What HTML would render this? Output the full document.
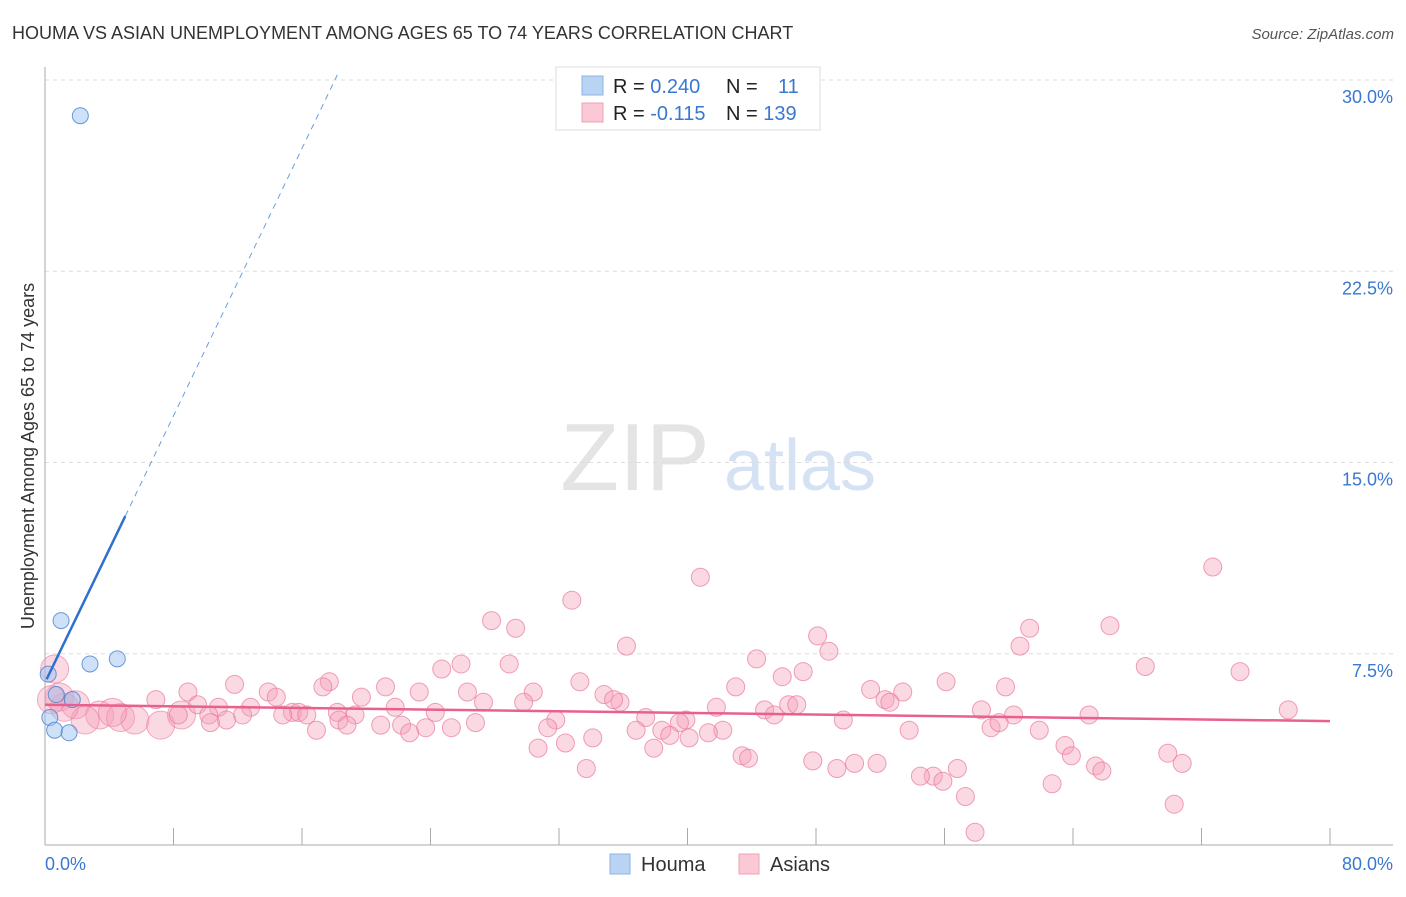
<!DOCTYPE html>
<html><head><meta charset="utf-8"><style>
body{margin:0;background:#fff;font-family:"Liberation Sans",sans-serif}
svg text{font-family:"Liberation Sans",sans-serif}
</style></head><body>
<svg id="c" width="1406" height="892">
<text x="12" y="39" font-size="18" fill="#333">HOUMA VS ASIAN UNEMPLOYMENT AMONG AGES 65 TO 74 YEARS CORRELATION CHART</text>
<text x="1394" y="39" font-size="15" fill="#555" text-anchor="end" font-style="italic">Source: ZipAtlas.com</text>
<text x="635" y="490" font-size="96" fill="#e4e4e4" font-family="Liberation Serif" text-anchor="middle">ZIP</text>
<text x="800" y="490" font-size="72" fill="#d4e2f4" text-anchor="middle">atlas</text>
<text transform="translate(34,456) rotate(-90)" font-size="18" fill="#333" text-anchor="middle">Unemployment Among Ages 65 to 74 years</text>
<g id="grid"></g><g id="pts"></g><g id="lines"></g>
<g>
<rect x="556" y="67" width="264" height="63" fill="#fff" stroke="#ddd"/>
<rect x="582" y="76" width="21" height="19" fill="#b9d3f3" stroke="#8db3e6"/>
<rect x="582" y="103" width="21" height="19" fill="#fbc8d6" stroke="#f0a0b8"/>
<text x="613" y="93" font-size="20" fill="#222">R = <tspan fill="#3a78d0">0.240</tspan></text>
<text x="726" y="93" font-size="20" fill="#222">N = <tspan x="778" fill="#3a78d0">11</tspan></text>
<text x="613" y="120" font-size="20" fill="#222">R = <tspan fill="#3a78d0">-0.115</tspan></text>
<text x="726" y="120" font-size="20" fill="#222">N = <tspan fill="#3a78d0">139</tspan></text>
</g>
<g>
<rect x="610" y="854" width="20" height="20" fill="#b9d3f3" stroke="#8db3e6"/>
<text x="641" y="871" font-size="20" fill="#333">Houma</text>
<rect x="739" y="854" width="20" height="20" fill="#fbc8d6" stroke="#f0a0b8"/>
<text x="770" y="871" font-size="20" fill="#333">Asians</text>
</g>
</svg>
<script>
const xTicks=[0,8,16,24,32,40,48,56,64,72,80];
const yTicks=[7.5,15,22.5,30];
const houmaX=[2.2,0.2,1.0,2.8,4.5,0.7,1.7,0.3,0.6,1.5];
const houmaY=[28.6,6.7,8.8,7.1,7.3,5.9,5.7,5.0,4.5,4.4];
const asianX=[40.8,72.7,32.8,27.8,29.3,66.3,61.3,48.1,36.2,60.7,48.8,44.3,28.9,25.9,24.7,68.5,74.4,47.2,45.9,17.7,33.3,56.1,17.3,43.0,11.8,59.8,51.4,53.4,21.2,23.3,26.3,30.4,34.8,13.9,8.9,6.9,19.7,27.3,29.8,35.8,35.4,52.3,52.6,41.8,46.3,46.8,44.8,58.3,12.8,10.8,14.4,9.5,21.8,18.2,24.3,19.3,60.3,45.4,65.0,77.4,15.4,15.8,16.3,14.8,12.3,10.2,8.3,18.3,37.4,39.9,39.5,31.8,49.7,11.3,10.3,26.8,20.9,22.2,16.9,18.8,23.7,25.3,31.3,36.8,38.4,42.2,41.3,38.9,40.1,53.8,58.9,59.4,61.9,34.1,22.7,30.7,32.4,37.9,63.5,63.9,43.4,43.8,47.8,50.4,49.3,51.8,69.9,70.8,65.4,65.8,33.7,56.8,55.3,54.5,55.9,62.7,57.3,70.3,57.9];
const asianY=[10.5,10.9,9.6,8.8,8.5,8.6,8.5,8.2,7.8,7.8,7.6,7.3,7.1,7.1,6.9,7.0,6.8,6.8,6.6,6.4,6.4,6.4,6.2,6.2,6.3,6.2,6.1,6.0,6.2,6.0,6.0,6.0,5.9,6.0,6.0,5.7,5.8,5.6,5.6,5.6,5.7,5.7,5.6,5.4,5.5,5.5,5.3,5.3,5.4,5.4,5.8,5.5,5.4,5.2,5.2,5.1,5.1,5.1,5.1,5.3,5.2,5.2,5.1,5.1,5.1,5.1,5.1,4.9,5.0,4.9,4.8,4.9,4.9,4.9,4.8,4.8,4.7,4.7,4.5,4.7,4.6,4.6,4.6,4.5,4.5,4.5,4.4,4.3,4.2,4.5,4.6,4.8,4.5,4.2,4.4,3.8,4.0,3.8,3.9,3.5,3.5,3.4,3.3,3.2,3.0,3.2,3.6,3.2,3.1,2.9,3.0,3.0,2.7,2.7,2.5,2.4,1.9,1.6,0.5];
const bigX=[0.6,0.9,1.9,3.4,4.7,5.6,7.2,4.2,2.5,1.2,8.5,0.4];
const bigY=[6.9,5.8,5.5,5.1,5.0,4.9,4.7,5.2,4.9,5.4,5.1,5.7];
const houmaLine=[[0.1,6.5],[5.0,12.9],[18.2,30.2]];
const asianLine=[[0,5.5],[80,4.86]];
const X=v=>45+v*1285/80, Y=v=>845-v*765/30;
const NS='http://www.w3.org/2000/svg';
function mk(t,a,p){const e=document.createElementNS(NS,t);for(const k in a)e.setAttribute(k,a[k]);p.appendChild(e);return e;}
const g=document.getElementById('grid');
yTicks.forEach(t=>{
 const l=mk('line',{x1:45,x2:1393,y1:Y(t),y2:Y(t),stroke:'#ddd','stroke-dasharray':'4,4'},g);
 
 
 const tx=mk('text',{x:1393,y:Y(t)+23,'font-size':18,fill:'#3a78d0','text-anchor':'end'},g);
 tx.textContent=t.toFixed(1)+'%';
 
 
});
const ax=mk('line',{x1:45,x2:45,y1:67,y2:845,stroke:'#aaa'},g);


const bx=mk('line',{x1:45,x2:1393,y1:845,y2:845,stroke:'#aaa'},g);


xTicks.forEach(t=>{
 const l=mk('line',{x1:X(t),x2:X(t),y1:828,y2:845,stroke:'#aaa'},g);
 
 
});
[[0,'start',45],[80,'end',1393]].forEach(([t,a,x])=>{
 const tx=mk('text',{x:x,y:870,'font-size':18,fill:'#3a78d0','text-anchor':a},g);
 tx.textContent=t.toFixed(1)+'%';
 
 
});
const p=document.getElementById('pts');
bigX.forEach((v,i)=>{
 const c=mk('circle',{cx:X(v),cy:Y(bigY[i]),r:14,fill:'rgba(246,160,186,0.4)',stroke:'rgba(234,120,156,0.6)'},p);
 
 
});
asianX.forEach((v,i)=>{
 const c=mk('circle',{cx:X(v),cy:Y(asianY[i]),r:9,fill:'rgba(246,160,186,0.4)',stroke:'rgba(234,120,156,0.7)'},p);
 
 
});
houmaX.forEach((v,i)=>{
 const c=mk('circle',{cx:X(v),cy:Y(houmaY[i]),r:8,fill:'rgba(160,196,240,0.5)',stroke:'rgba(70,130,210,0.8)'},p);
 
 
});
const L=document.getElementById('lines');
const h1=mk('line',{x1:X(houmaLine[0][0]),y1:Y(houmaLine[0][1]),x2:X(houmaLine[1][0]),y2:Y(houmaLine[1][1]),stroke:'#2f6fd0','stroke-width':2.5},L);


const h2=mk('line',{x1:X(houmaLine[1][0]),y1:Y(houmaLine[1][1]),x2:X(houmaLine[2][0]),y2:Y(houmaLine[2][1]),stroke:'#6a9ee0','stroke-width':1,'stroke-dasharray':'6,5'},L);


const a1=mk('line',{x1:X(asianLine[0][0]),y1:Y(asianLine[0][1]),x2:X(asianLine[1][0]),y2:Y(asianLine[1][1]),stroke:'#e8608e','stroke-width':2.5},L);


</script>
</body></html>
